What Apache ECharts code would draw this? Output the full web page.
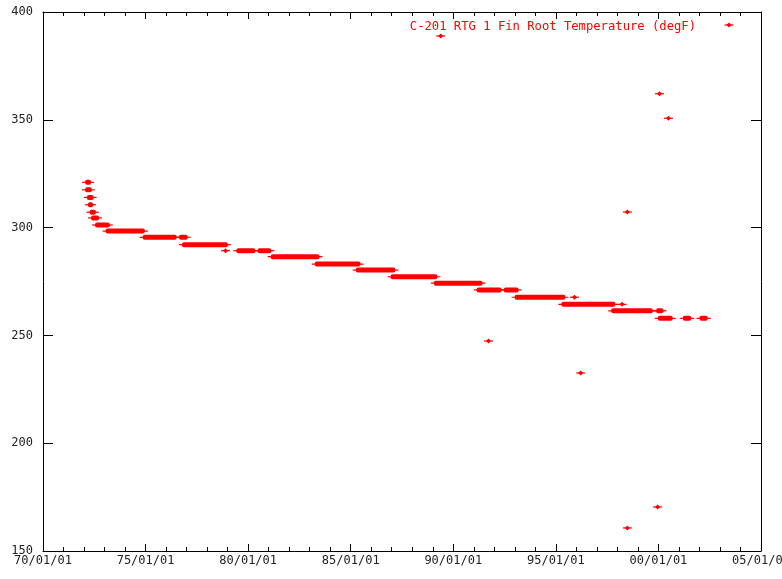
<!DOCTYPE html>
<html>
<head>
<meta charset="utf-8">
<script src="https://cdn.jsdelivr.net/npm/echarts@6/dist/echarts.min.js"></script>
<style>
  html, body { margin: 0; padding: 0; background: #fff; }
  #chart { width: 782px; height: 579px; }
</style>
</head>
<body>
<div id="chart"></div>
<script>
// runs of readings held at one level: start date, end date, temperature (degF)
var segStart = ['1972-01-20', '1972-01-20', '1972-02-20', '1972-03-10', '1972-04-10', '1972-05-05',
    '1972-07-15', '1973-01-20', '1974-11-10', '1976-08-15', '1976-10-10', '1979-06-05', '1980-06-15',
    '1981-02-05', '1983-04-01', '1985-04-01', '1986-12-10', '1989-01-20', '1991-02-20', '1992-06-15',
    '1992-12-28', '1995-04-08', '1997-09-12', '1999-11-20', '1999-12-20', '2001-03-10', '2002-01-01'];
var segEnd = ['1972-05-05', '1972-05-20', '1972-06-20', '1972-06-10', '1972-07-30', '1972-09-25',
    '1973-04-05', '1974-12-20', '1976-07-10', '1977-01-20', '1979-01-05', '1980-05-10', '1981-02-20',
    '1983-06-25', '1985-06-25', '1987-03-05', '1989-03-25', '1991-06-05', '1992-05-10', '1993-03-10',
    '1995-06-20', '1997-11-28', '1999-09-25', '2000-04-01', '2000-09-12', '2001-08-07', '2002-05-28'];
var segTemp = [321.0, 317.5, 314.0, 310.6, 307.1, 304.5,
    301.2, 298.4, 295.5, 295.5, 292.1, 289.3, 289.3,
    286.5, 283.1, 280.3, 277.2, 274.2, 271.1, 271.1,
    267.7, 264.4, 261.4, 261.4, 257.9, 257.9, 257.9];

// single readings
var spotDate = ['1978-11-25', '1995-11-28', '1998-03-25', '1989-05-22', '2000-01-20', '2000-06-28',
    '1998-06-28', '1991-09-20', '1996-03-18', '1998-06-28', '1999-12-18'];
var spotTemp = [289.3, 267.7, 264.4, 388.9, 362.1, 350.7, 307.2, 247.4, 232.6, 160.7, 170.4];

var seriesName = 'C-201 RTG 1 Fin Root Temperature (degF)';

var RED = '#ff0000';

function toYear(s) {
    var d = new Date(s + 'T00:00:00Z');
    var y = d.getUTCFullYear();
    var a = Date.UTC(y, 0, 1), b = Date.UTC(y + 1, 0, 1);
    return y + (d.getTime() - a) / (b - a);
}

var segData = segStart.map(function (s, i) {
    return [toYear(s), toYear(segEnd[i]), segTemp[i]];
});
var spotData = spotDate.map(function (s, i) {
    return [toYear(s), spotTemp[i]];
});

function markShape(cx, cy) {
    return [
        { type: 'line', shape: { x1: cx - 4.5, y1: cy, x2: cx + 4.5, y2: cy },
          style: { stroke: RED, lineWidth: 1.2 } },
        { type: 'polygon', shape: { points: [[cx, cy - 2.5], [cx + 2.5, cy], [cx, cy + 2.5], [cx - 2.5, cy]] },
          style: { fill: RED } }
    ];
}

var mono = '"DejaVu Sans Mono", monospace';

var xBase = {
    type: 'value', min: 1970, max: 2005, interval: 5,
    axisLine: { lineStyle: { color: '#000', width: 1 } },
    axisTick: { inside: true, length: 7, lineStyle: { color: '#000' } },
    minorTick: { show: true, splitNumber: 5, length: 4, lineStyle: { color: '#000' } },
    splitLine: { show: false },
    minorSplitLine: { show: false }
};
var yBase = {
    type: 'value', min: 150, max: 400, interval: 50,
    axisLine: { show: true, lineStyle: { color: '#000', width: 1 } },
    axisTick: { show: true, inside: true, length: 10, lineStyle: { color: '#000' } },
    splitLine: { show: false }
};

var option = {
    animation: false,
    backgroundColor: '#fff',
    grid: { left: 43, right: 21, top: 12, bottom: 28, containLabel: false, outerBoundsMode: 'none' },
    xAxis: [
        Object.assign({}, xBase, {
            position: 'bottom',
            axisLabel: {
                show: true, margin: 4, color: '#222', fontFamily: mono, fontSize: 12,
                showMaxLabel: true, showMinLabel: true,
                formatter: function (v) {
                    var yy = Math.round(v) % 100;
                    return (yy < 10 ? '0' : '') + yy + '/01/01';
                }
            }
        }),
        Object.assign({}, xBase, { position: 'top', axisLabel: { show: false } })
    ],
    yAxis: [
        Object.assign({}, yBase, {
            position: 'left',
            axisLabel: { margin: 10, color: '#222', fontFamily: mono, fontSize: 12 }
        }),
        Object.assign({}, yBase, { position: 'right', axisLabel: { show: false } })
    ],
    graphic: [
        {
            type: 'text', right: 86, top: 20.5,
            style: { text: seriesName, fill: RED, font: '12.2px ' + mono }
        },
        {
            type: 'group', left: 722, top: 22.5,
            children: markShape(4.5, 2.5)
        }
    ],
    series: [
        {
            name: seriesName,
            type: 'custom',
            xAxisIndex: 0, yAxisIndex: 0,
            clip: true,
            encode: { x: [0, 1], y: 2 },
            data: segData,
            renderItem: function (params, api) {
                var p0 = api.coord([api.value(0), api.value(2)]);
                var p1 = api.coord([api.value(1), api.value(2)]);
                return {
                    type: 'group',
                    children: [
                        { type: 'line', shape: { x1: p0[0] - 3, y1: p0[1], x2: p1[0] + 3, y2: p1[1] },
                          style: { stroke: RED, lineWidth: 1.2 } },
                        { type: 'rect', shape: { x: p0[0], y: p0[1] - 2.5, width: p1[0] - p0[0], height: 5, r: 2 },
                          style: { fill: RED } }
                    ]
                };
            }
        },
        {
            name: seriesName,
            type: 'custom',
            xAxisIndex: 0, yAxisIndex: 0,
            clip: true,
            encode: { x: 0, y: 1 },
            data: spotData,
            renderItem: function (params, api) {
                var p = api.coord([api.value(0), api.value(1)]);
                return { type: 'group', children: markShape(p[0], p[1]) };
            }
        }
    ]
};

var chart = echarts.init(document.getElementById('chart'));
chart.setOption(option);
</script>
</body>
</html>
